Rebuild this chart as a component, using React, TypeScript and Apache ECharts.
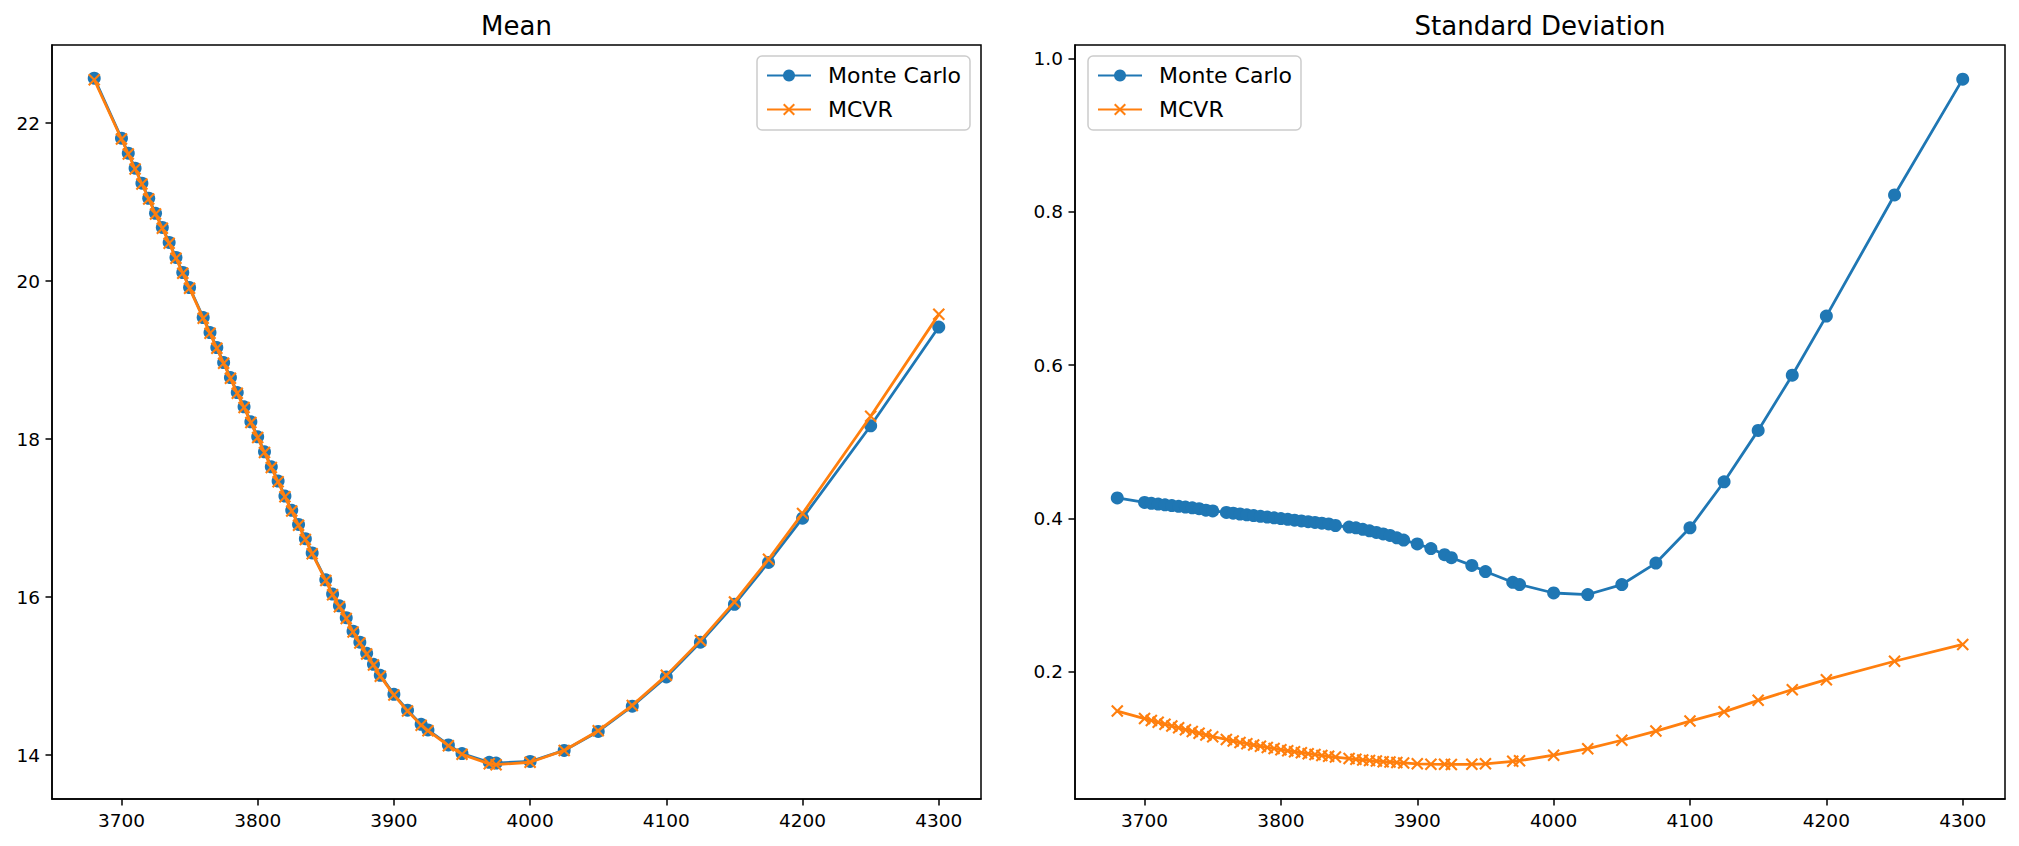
import React, { useEffect, useRef } from "react";
import * as echarts from "echarts";

const xValues = [
  3680,
  3700, 3705, 3710, 3715, 3720, 3725, 3730, 3735, 3740, 3745, 3750,
  3760, 3765, 3770, 3775, 3780, 3785, 3790, 3795, 3800, 3805, 3810, 3815, 3820, 3825, 3830, 3835, 3840,
  3850, 3855, 3860, 3865, 3870, 3875, 3880, 3885, 3890,
  3900, 3910, 3920, 3925, 3940, 3950, 3970, 3975, 4000, 4025, 4050, 4075, 4100, 4125, 4150, 4175, 4200, 4250, 4300,
];

const meanMonteCarlo = [
  22.57,
  21.81, 21.62, 21.43, 21.24, 21.05, 20.86, 20.68, 20.49, 20.30, 20.11, 19.92,
  19.54, 19.35, 19.16, 18.97, 18.78, 18.59, 18.41, 18.22, 18.03, 17.84, 17.65, 17.47, 17.28, 17.10, 16.92, 16.74, 16.56,
  16.22, 16.04, 15.89, 15.74, 15.57, 15.43, 15.29, 15.15, 15.01,
  14.77, 14.57, 14.39, 14.32, 14.13, 14.02, 13.91, 13.90, 13.92, 14.06, 14.30, 14.62, 14.99, 15.43, 15.91, 16.44, 17.00, 18.17, 19.42,
];

const meanMCVR = [
  22.55,
  21.80, 21.61, 21.42, 21.23, 21.04, 20.85, 20.67, 20.48, 20.29, 20.10, 19.91,
  19.53, 19.34, 19.15, 18.96, 18.77, 18.58, 18.40, 18.21, 18.02, 17.83, 17.64, 17.46, 17.27, 17.09, 16.91, 16.73, 16.55,
  16.21, 16.03, 15.88, 15.73, 15.56, 15.42, 15.28, 15.14, 15.00,
  14.76, 14.56, 14.38, 14.31, 14.12, 14.01, 13.89, 13.88, 13.91, 14.06, 14.31, 14.63, 15.01, 15.45, 15.94, 16.48, 17.06, 18.29, 19.58,
];

const stdMonteCarlo = [
  0.427,
  0.421, 0.420, 0.419, 0.418, 0.417, 0.416, 0.415, 0.414, 0.413, 0.411, 0.410,
  0.408, 0.407, 0.406, 0.405, 0.404, 0.403, 0.402, 0.401, 0.400, 0.399, 0.398, 0.397, 0.396, 0.395, 0.394, 0.393, 0.391,
  0.389, 0.388, 0.386, 0.384, 0.382, 0.380, 0.378, 0.375, 0.372,
  0.367, 0.361, 0.353, 0.349, 0.339, 0.331, 0.317, 0.314, 0.303, 0.301, 0.314, 0.342, 0.388, 0.448, 0.515, 0.587, 0.664, 0.822, 0.973,
];

const stdMCVR = [
  0.149,
  0.1393, 0.1368, 0.1344, 0.1320, 0.1296, 0.1272, 0.1248, 0.1225, 0.1202, 0.1179, 0.1156,
  0.1120, 0.1100, 0.1082, 0.1065, 0.1048, 0.1032, 0.1016, 0.1001, 0.0987, 0.0973, 0.0960, 0.0947, 0.0935, 0.0923, 0.0912, 0.0901, 0.0890,
  0.0871, 0.0862, 0.0853, 0.0845, 0.0838, 0.0831, 0.0825, 0.0819, 0.0814,
  0.0802, 0.0798, 0.0796, 0.0795, 0.0797, 0.0803, 0.0835, 0.0843, 0.0915, 0.1000, 0.1110, 0.1230, 0.1360, 0.1480, 0.1630, 0.1770, 0.1900, 0.2140, 0.2360,
];

const xTicks = [3700, 3800, 3900, 4000, 4100, 4200, 4300];
const meanTicks = [14, 16, 18, 20, 22];
const stdTicks = [0.2, 0.4, 0.6, 0.8, 1.0];

const seriesNames = ["Monte Carlo", "MCVR"];
const titles = ["Mean", "Standard Deviation"];

const BLUE = "#1f77b4";
const ORANGE = "#ff7f0e";
const FONT = "DejaVu Sans";
const X_SYMBOL =
  "path://M0,1.2L1.2,0L5,3.8L8.8,0L10,1.2L6.2,5L10,8.8L8.8,10L5,6.2L1.2,10L0,8.8L3.8,5Z";

export default function App() {
  const ref = useRef<HTMLDivElement>(null);

  useEffect(() => {
    document.body.style.margin = "0";
    if (!ref.current) return;
    const chart = echarts.init(ref.current, undefined, { renderer: "svg" });

    const pairs = (ys: number[]) => xValues.map((x, i) => [x, ys[i]]);

    const grids = [
      { left: 52, top: 45, width: 929, height: 754 },
      { left: 1075, top: 45, width: 930, height: 754 },
    ];

    const axisCommon = {
      axisLine: { show: true, lineStyle: { color: "#000", width: 1.5 } },
      splitLine: { show: false },
    };

    const xAxis = grids.map((_, i) => ({
      type: "value",
      gridIndex: i,
      min: 3649,
      max: 4331,
      ...axisCommon,
      axisTick: {
        show: true,
        inside: false,
        length: 6.5,
        lineStyle: { color: "#000", width: 1.5 },
        customValues: xTicks,
      },
      axisLabel: {
        customValues: xTicks,
        fontSize: 18.5,
        fontFamily: FONT,
        color: "#000",
        margin: 12,
        formatter: (v: number) => String(Math.round(v)),
      },
    }));

    const yAxis = [
      {
        type: "value",
        gridIndex: 0,
        min: 13.445,
        max: 22.99,
        ...axisCommon,
        axisTick: {
          show: true,
          inside: false,
          length: 6.5,
          lineStyle: { color: "#000", width: 1.5 },
          customValues: meanTicks,
        },
        axisLabel: {
          customValues: meanTicks,
          fontSize: 18.5,
          fontFamily: FONT,
          color: "#000",
          margin: 12,
          formatter: (v: number) => String(Math.round(v)),
        },
      },
      {
        type: "value",
        gridIndex: 1,
        min: 0.0344,
        max: 1.0175,
        ...axisCommon,
        axisTick: {
          show: true,
          inside: false,
          length: 6.5,
          lineStyle: { color: "#000", width: 1.5 },
          customValues: stdTicks,
        },
        axisLabel: {
          customValues: stdTicks,
          fontSize: 18.5,
          fontFamily: FONT,
          color: "#000",
          margin: 12,
          formatter: (v: number) => v.toFixed(1),
        },
      },
    ];

    const mkSeries = (name: string, data: number[], idx: number, isMC: boolean) => ({
      name,
      type: "line",
      xAxisIndex: idx,
      yAxisIndex: idx,
      data: pairs(data),
      showAllSymbol: true,
      symbol: isMC ? "circle" : X_SYMBOL,
      symbolSize: isMC ? 13 : 12.5,
      lineStyle: { color: isMC ? BLUE : ORANGE, width: 2.8 },
      itemStyle: { color: isMC ? BLUE : ORANGE, borderWidth: 0 },
      emphasis: { disabled: true },
      z: isMC ? 2 : 3,
    });

    const legendCommon = {
      orient: "vertical",
      top: 56,
      selectedMode: false,
      itemWidth: 44,
      itemHeight: 15,
      itemGap: 9,
      padding: [7, 9, 8, 9],
      backgroundColor: "rgba(255,255,255,0.8)",
      borderColor: "#cccccc",
      borderWidth: 1.5,
      borderRadius: 5,
      textStyle: {
        fontSize: 22,
        fontFamily: FONT,
        color: "#000",
        lineHeight: 25,
        padding: [0, 0, 0, 12],
      },
      data: seriesNames,
    };

    chart.setOption({
      animation: false,
      textStyle: { fontFamily: FONT },
      grid: grids.map((g) => ({
        ...g,
        show: true,
        borderColor: "#000",
        borderWidth: 1.5,
        backgroundColor: "transparent",
        containLabel: false,
      })),
      xAxis,
      yAxis,
      legend: [
        { ...legendCommon, right: 1049 },
        { ...legendCommon, left: 1088 },
      ],
      series: [
        mkSeries(seriesNames[0], meanMonteCarlo, 0, true),
        mkSeries(seriesNames[1], meanMCVR, 0, false),
        mkSeries(seriesNames[0], stdMonteCarlo, 1, true),
        mkSeries(seriesNames[1], stdMCVR, 1, false),
      ],
      graphic: [
        {
          type: "text",
          x: 516.5,
          y: 26,
          style: {
            text: titles[0],
            fontSize: 26,
            fontFamily: FONT,
            fill: "#000",
            align: "center",
            verticalAlign: "middle",
          },
        },
        {
          type: "text",
          x: 1540,
          y: 26,
          style: {
            text: titles[1],
            fontSize: 26,
            fontFamily: FONT,
            fill: "#000",
            align: "center",
            verticalAlign: "middle",
          },
        },
      ],
    });

    return () => chart.dispose();
  }, []);

  return <div ref={ref} style={{ width: 2019, height: 846 }} />;
}
